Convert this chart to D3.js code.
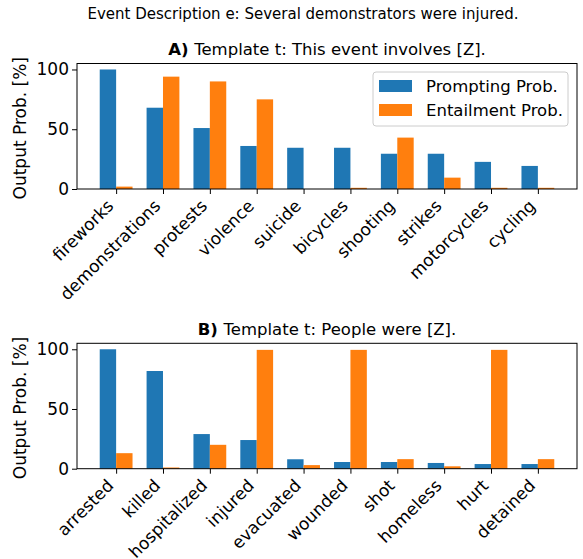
<!DOCTYPE html>
<html>
<head>
<meta charset="utf-8">
<script src="https://cdn.jsdelivr.net/npm/d3@7"></script>
<style>
  body { margin: 0; background: #fff; }
  svg text { font-family: "DejaVu Sans", sans-serif; fill: #000; }
</style>
</head>
<body>
<svg width="583" height="559"></svg>
<script>
// panel A: "This event involves [Z]."
var catsA = ["fireworks", "demonstrations", "protests", "violence", "suicide", "bicycles", "shooting", "strikes", "motorcycles", "cycling"];
var promptA = [100, 68, 51, 36, 34.5, 34.5, 29.5, 29.5, 22.7, 19.3];
var entailA = [2, 94, 90, 75, 0, 1, 43, 9.5, 1, 1];

// panel B: "People were [Z]."
var catsB = ["arrested", "killed", "hospitalized", "injured", "evacuated", "wounded", "shot", "homeless", "hurt", "detained"];
var promptB = [100, 81.8, 29, 24, 7.9, 5.6, 5.6, 4.8, 3.9, 3.9];
var entailB = [13, 1, 20, 99.5, 3, 99.5, 8, 2, 99.5, 8];

var yTicks = [0, 50, 100];
var seriesNames = ["Prompting Prob.", "Entailment Prob."];
var colors = ["#1f77b4", "#ff7f0e"];

var svg = d3.select("svg");

svg.append("text")
    .attr("x", 303).attr("y", 18.5)
    .attr("text-anchor", "middle")
    .attr("font-size", 15)
    .text("Event Description e: Several demonstrators were injured.");

var left = 77, right = 577, barW = 0.35;

function panel(top, bottom, tag, title, cats, s1, s2, withLegend) {
    var n = cats.length;
    var x = d3.scaleLinear().domain([-barW - 0.485, n - 1 + barW + 0.485]).range([left, right]);
    var y = d3.scaleLinear().domain([0, 105]).range([bottom, top]);
    var g = svg.append("g");

    var t = g.append("text")
        .attr("x", (left + right) / 2).attr("y", top - 8.5)
        .attr("text-anchor", "middle")
        .attr("font-size", 16.5);
    t.append("tspan").attr("font-weight", "bold").text(tag + " ");
    t.append("tspan").text(title);

    [s1, s2].forEach(function (vals, si) {
        g.selectAll(".bar" + si)
            .data(vals)
            .enter().append("rect")
            .attr("x", function (d, i) { return si === 0 ? x(i - barW) : x(i); })
            .attr("width", x(barW) - x(0))
            .attr("y", function (d) { return y(d); })
            .attr("height", function (d) { return bottom - y(d); })
            .attr("fill", colors[si]);
    });

    // frame
    g.append("rect")
        .attr("x", left).attr("y", top)
        .attr("width", right - left).attr("height", bottom - top)
        .attr("fill", "none").attr("stroke", "#000").attr("stroke-width", 1);

    var yAxis = g.append("g")
        .attr("transform", "translate(" + left + ",0)")
        .call(d3.axisLeft(y).tickValues(yTicks).tickSize(5).tickPadding(3));
    yAxis.select(".domain").remove();
    yAxis.selectAll("text").attr("font-size", 17).style("font-family", "DejaVu Sans");

    var xAxis = g.append("g")
        .attr("transform", "translate(0," + bottom + ")")
        .call(d3.axisBottom(x).tickValues(d3.range(n)).tickSize(5).tickFormat(function (d) { return cats[d]; }));
    xAxis.select(".domain").remove();
    xAxis.selectAll("text")
        .attr("font-size", 17)
        .style("font-family", "DejaVu Sans")
        .attr("text-anchor", "end")
        .attr("dy", null)
        .attr("y", 0)
        .attr("transform", "translate(-2,18) rotate(-45)");

    g.append("text")
        .attr("transform", "translate(26," + ((top + bottom) / 2 + 2) + ") rotate(-90)")
        .attr("text-anchor", "middle")
        .attr("font-size", 17)
        .text("Output Prob. [%]");

    if (withLegend) {
        var lg = g.append("g").attr("transform", "translate(373,72)");
        lg.append("rect")
            .attr("width", 195).attr("height", 54).attr("rx", 3)
            .attr("fill", "#fff").attr("fill-opacity", 0.8)
            .attr("stroke", "#ccc");
        seriesNames.forEach(function (s, i) {
            lg.append("rect")
                .attr("x", 6).attr("y", 8 + i * 24)
                .attr("width", 33).attr("height", 12)
                .attr("fill", colors[i]);
            lg.append("text")
                .attr("x", 53).attr("y", 20 + i * 24)
                .attr("font-size", 16.5)
                .text(s);
        });
    }
}

panel(63.5, 189, "A)", "Template t: This event involves [Z].", catsA, promptA, entailA, true);
panel(343.3, 468.7, "B)", "Template t: People were [Z].", catsB, promptB, entailB, false);
</script>
</body>
</html>
